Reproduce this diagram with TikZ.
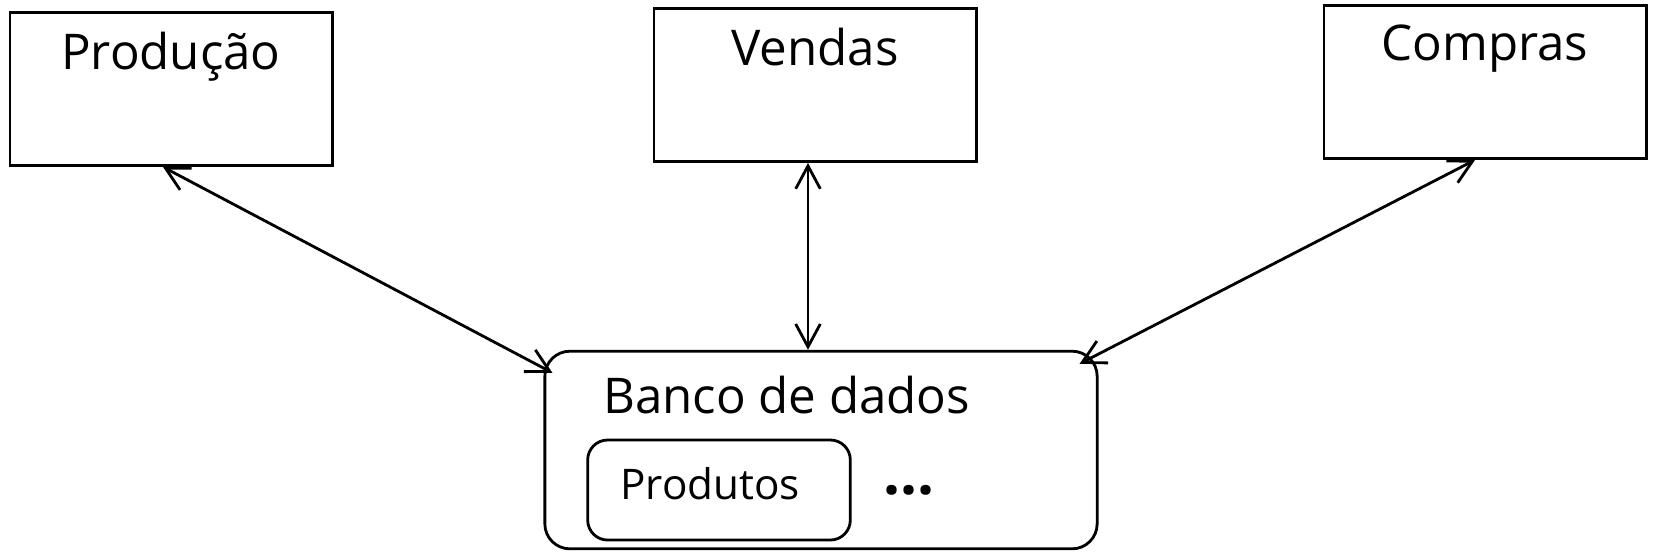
\documentclass[tikz,border=0pt]{standalone}
\usepackage{fontspec}
\setmainfont{Open Sans}
\usetikzlibrary{arrows.meta}

\begin{document}
\begin{tikzpicture}[x=0.01cm, y=-0.01cm,
        every node/.style={line width=0.8pt},
        setor/.style={draw, rectangle, minimum width=3.22cm, minimum height=1.53cm},
        titulo/.style={font=\fontsize{14}{17}\selectfont},
        liga/.style={line width=0.8pt, {Straight Barb[length=6.5pt,width=7pt]}-{Straight Barb[length=6.5pt,width=7pt]}}
    ]
        \useasboundingbox (0,0) rectangle (1654,556);

        % Setores da empresa
        \node[setor, label={[titulo, anchor=north, yshift=-0.075cm]north:Produção}] (prod) at (171,89) {};
        \node[setor, label={[titulo, anchor=north, yshift=-0.075cm]north:Vendas}] (vend) at (815,85) {};
        \node[setor, label={[titulo, anchor=north, yshift=-0.075cm]north:Compras}] (comp) at (1485,82) {};

        % Banco de dados central
        \node[draw, rounded corners=0.25cm, minimum width=5.52cm, minimum height=1.975cm] (banco) at (821,450) {};
        \node[titulo, anchor=west] (bancotxt) at (590,395) {Banco de dados};
        \node[draw, rounded corners=0.2cm, minimum width=2.625cm, minimum height=1.0cm] (prods) at (719,490) {};
        \node[font=\fontsize{12}{15}\selectfont] (prodstxt) at (710,484) {Produtos};
        \node[font=\fontsize{17}{19}\selectfont\bfseries] (etc) at (909,490) {...};

        % Ligacoes
        \draw[liga] ([xshift=-0.08cm]prod.south) -- ([shift={(9,23)}]banco.north west);
        \draw[liga] ([xshift=-0.07cm]vend.south) -- ([xshift=-0.07cm]vend.south |- banco.north);
        \draw[liga] ([xshift=-0.1cm]comp.south) -- ([shift={(-19,14)}]banco.north east);
    \end{tikzpicture}
\end{document}
